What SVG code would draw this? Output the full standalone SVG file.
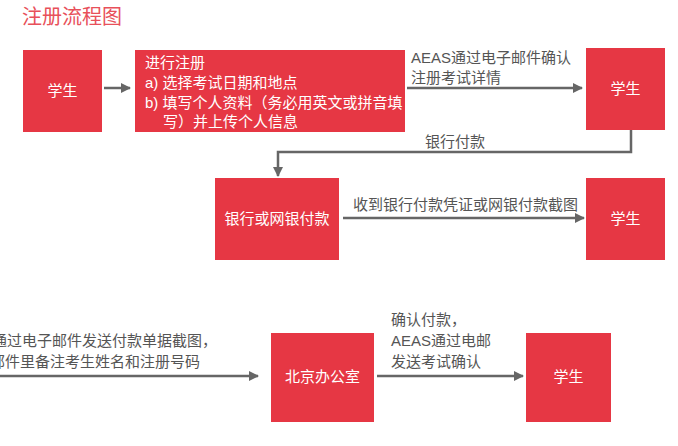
<svg xmlns="http://www.w3.org/2000/svg" width="678" height="446" viewBox="0 0 678 446">
<style>
.b{fill:#e63744}
.w{fill:#fff;font-family:"Liberation Sans","Noto Sans CJK SC",sans-serif;font-size:15px}
.t{fill:#555;font-family:"Liberation Sans","Noto Sans CJK SC",sans-serif;font-size:15px}
.l{stroke:#666;stroke-width:2.5;fill:none}
</style>
<defs><marker id="a" markerWidth="10" markerHeight="10" refX="9" refY="5" orient="auto" markerUnits="userSpaceOnUse"><path d="M0,0L10,5L0,10z" fill="#666"/></marker></defs>
<rect width="678" height="446" fill="#fff"/>
<text x="22" y="24" style="fill:#e8505a;font-family:'Noto Sans CJK SC',sans-serif;font-size:20px">注册流程图</text>
<g id="n1"><rect class="b" x="23" y="50" width="79" height="82"/><text class="w" x="62.5" y="96" text-anchor="middle">学生</text></g>
<g id="n2"><rect class="b" x="135" y="50" width="270" height="82"/>
<text class="w" x="145" y="68">进行注册</text><text class="w" x="145" y="88">a) 选择考试日期和地点</text><text class="w" x="145" y="108">b) 填写个人资料（务必用英文或拼音填</text><text class="w" x="163" y="127">写）并上传个人信息</text></g>
<g id="n3"><rect class="b" x="586" y="48" width="79" height="82"/><text class="w" x="625.5" y="94" text-anchor="middle">学生</text></g>
<g id="n4"><rect class="b" x="215" y="178" width="124" height="82"/><text class="w" x="277" y="224" text-anchor="middle">银行或网银付款</text></g>
<g id="n5"><rect class="b" x="586" y="178" width="79" height="82"/><text class="w" x="625.5" y="224" text-anchor="middle">学生</text></g>
<g id="n6"><rect class="b" x="271" y="333" width="103" height="89"/><text class="w" x="322.5" y="382" text-anchor="middle">北京办公室</text></g>
<g id="n7"><rect class="b" x="526" y="333" width="85" height="89"/><text class="w" x="568.5" y="382" text-anchor="middle">学生</text></g>
<g id="edges">
<line class="l" x1="104" y1="88" x2="130" y2="88" marker-end="url(#a)"/>
<line class="l" x1="407" y1="88" x2="582" y2="88" marker-end="url(#a)"/>
<polyline class="l" points="631,130 631,152 278,152 278,176" marker-end="url(#a)"/>
<line class="l" x1="343" y1="218" x2="584" y2="218" marker-end="url(#a)"/>
<line class="l" x1="0" y1="376" x2="258" y2="376" marker-end="url(#a)"/>
<line class="l" x1="377" y1="376" x2="523" y2="376" marker-end="url(#a)"/>
</g>
<g id="labels">
<text class="t" x="411" y="63">AEAS通过电子邮件确认</text><text class="t" x="411" y="83">注册考试详情</text>
<text class="t" x="425" y="147">银行付款</text>
<text class="t" x="353" y="210">收到银行付款凭证或网银付款截图</text>
<text class="t" x="-8" y="346">通过电子邮件发送付款单据截图，</text><text class="t" x="-10" y="367">邮件里备注考生姓名和注册号码</text>
<text class="t" x="391" y="325">确认付款，</text><text class="t" x="391" y="346">AEAS通过电邮</text><text class="t" x="391" y="367">发送考试确认</text>
</g>
</svg>
